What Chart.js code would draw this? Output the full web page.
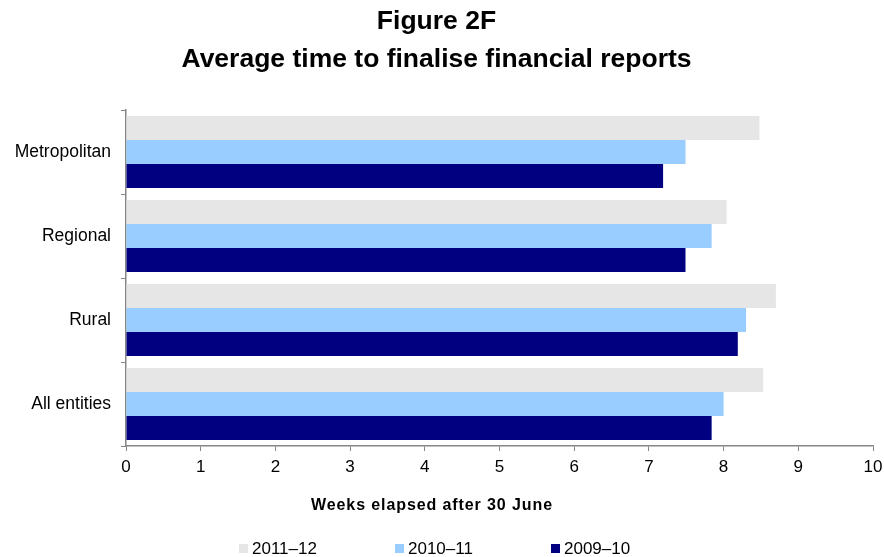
<!DOCTYPE html>
<html>
<head>
<meta charset="utf-8">
<script src="https://cdn.jsdelivr.net/npm/chart.js@4/dist/chart.umd.min.js"></script>
<style>
  html, body { margin: 0; padding: 0; background: #fff; }
  #wrap { width: 884px; height: 557px; }
</style>
</head>
<body>
<div id="wrap"><canvas id="timeChart"></canvas></div>
<script>
let regions = ["Metropolitan", "Regional", "Rural", "All entities"]
let years = ["2011–12", "2010–11", "2009–10"]
let weeks2011 = [8.48, 8.04, 8.70, 8.53]
let weeks2010 = [7.49, 7.84, 8.30, 8.00]
let weeks2009 = [7.19, 7.49, 8.19, 7.84]
let barColours = ["#E6E6E6", "#99CCFF", "#000080"]
let xTitle = "Weeks elapsed after 30 June"

let axisGrey = "#868686"
let fontFamily = "'Liberation Sans', Arial, sans-serif"

// axis title and legend sit under the x axis, drawn by hand
let footer = {
    id: 'footer',
    afterDraw: function (chart) {
        let c = chart.ctx
        c.save()
        c.fillStyle = "#000"
        c.textBaseline = 'middle'

        c.font = "bold 16px " + fontFamily
        c.letterSpacing = "0.9px"
        c.textAlign = 'center'
        c.fillText(xTitle, 432, 506)
        c.letterSpacing = "0px"

        c.font = "17px " + fontFamily
        c.textAlign = 'left'
        chart.data.datasets.forEach(function (ds, i) {
            let x = 239 + i * 156
            c.fillStyle = ds.backgroundColor
            c.fillRect(x, 544, 9, 9)
            c.fillStyle = "#000"
            c.fillText(ds.label, x + 13, 549)
        })
        c.restore()
    }
}

let ctx = document.getElementById('timeChart').getContext('2d')
var chart = new Chart(ctx, {
    type: 'bar',
    data: {
        labels: regions,
        datasets: [weeks2011, weeks2010, weeks2009].map(function (vals, i) {
            return {
                label: years[i],
                data: vals,
                backgroundColor: barColours[i],
                borderWidth: 0,
                categoryPercentage: 0.86,
                barPercentage: 1.0
            }
        })
    },
    options: {
        indexAxis: 'y',
        responsive: true,
        maintainAspectRatio: false,
        animation: false,
        layout: { padding: { left: 0, right: 11, top: 3, bottom: 0 } },
        plugins: {
            title: {
                display: true,
                text: ["Figure 2F", "Average time to finalise financial reports"],
                color: "#000",
                font: { family: fontFamily, size: 26.5, weight: 'bold', lineHeight: 1.434 },
                padding: { top: 0, bottom: 31 }
            },
            legend: { display: false },
            tooltip: { enabled: false }
        },
        scales: {
            x: {
                min: 0,
                max: 10,
                ticks: {
                    stepSize: 1,
                    color: "#000",
                    font: { family: fontFamily, size: 17 },
                    padding: 6
                },
                grid: {
                    drawOnChartArea: false,
                    drawTicks: true,
                    tickLength: 5,
                    tickColor: axisGrey
                },
                border: { color: axisGrey, width: 1.5 },
                afterFit: function (scale) {
                    scale.height = 111
                    scale.paddingRight = 0
                }
            },
            y: {
                ticks: {
                    color: "#000",
                    font: { family: fontFamily, size: 17.5 },
                    padding: 10
                },
                grid: {
                    offset: true,
                    drawOnChartArea: false,
                    drawTicks: true,
                    tickLength: 5,
                    tickColor: axisGrey
                },
                border: { color: axisGrey, width: 1.5 },
                afterFit: function (scale) { scale.width = 126 }
            }
        }
    },
    plugins: [footer]
})
</script>
</body>
</html>
